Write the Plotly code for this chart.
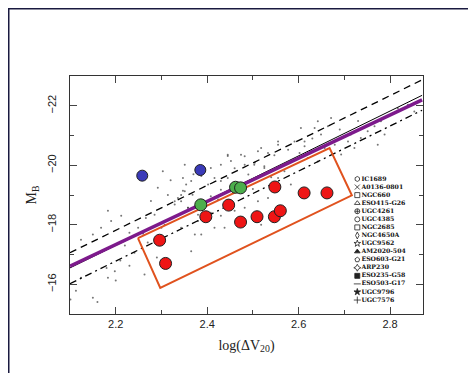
import plotly.graph_objects as go

# ---- data ----
field_x = [2.101, 2.15, 2.183, 2.20, 2.198, 2.21, 2.18, 2.23, 2.241, 2.263, 2.124, 2.113,
           2.292, 2.303, 2.314, 2.277, 2.336, 2.347, 2.329, 2.354, 2.19, 2.168, 2.212, 2.15,
           2.124, 2.23, 2.266, 2.249, 2.183, 2.30, 2.285,
           2.533, 2.555, 2.577, 2.591, 2.613, 2.445, 2.482, 2.511, 2.547, 2.602,
           2.351, 2.408, 2.43, 2.452, 2.482, 2.504, 2.525, 2.347, 2.365, 2.387, 2.402, 2.416,
           2.43, 2.445, 2.351, 2.368, 2.408, 2.424, 2.343, 2.358, 2.38, 2.408, 2.43, 2.46,
           2.482, 2.511, 2.533, 2.387, 2.416, 2.518, 2.555, 2.569, 2.583, 2.555,
           2.613, 2.635, 2.649, 2.664, 2.627, 2.657, 2.679, 2.693, 2.708, 2.722, 2.714, 2.736,
           2.751, 2.766, 2.78, 2.801, 2.817, 2.839, 2.853, 2.73, 2.671, 2.62, 2.642, 2.788, 2.773,
           2.642, 2.605, 2.555, 2.518, 2.474, 2.445, 2.503, 2.525, 2.49, 2.43,
           2.343, 2.329, 2.358, 2.402, 2.438, 2.373, 2.343, 2.307, 2.365, 2.38,
           2.14, 2.16, 2.22, 2.27, 2.29, 2.26, 2.32, 2.37, 2.46, 2.50, 2.54, 2.59, 2.63, 2.69]
field_y = [-15.49, -15.55, -16.22, -16.13, -16.44, -16.8, -16.55, -16.62, -17.06, -16.33, -16.22, -15.78,
           -19.24, -19.8, -19.0, -18.8, -18.9, -19.14, -18.68, -19.35, -18.13, -17.9, -18.3, -17.67,
           -17.5, -17.73, -18.23, -17.9, -18.47, -17.9, -18.34,
           -20.41, -20.69, -20.52, -20.8, -20.64, -20.31, -20.3, -20.47, -20.34, -20.41,
           -20.02, -19.91, -20.02, -20.14, -20.02, -20.08, -19.97, -19.57, -19.47, -19.64, -19.35, -19.57,
           -19.18, -19.57, -19.13, -19.01, -18.96, -18.85, -18.79, -18.57, -18.34, -18.4, -18.3, -18.47,
           -18.57, -18.79, -18.9, -17.67, -17.9, -18.0, -19.57, -19.8, -19.35, -19.14,
           -20.8, -21.25, -21.03, -21.31, -20.47, -20.58, -20.69, -20.36, -20.8, -20.58, -21.03, -20.92,
           -21.14, -21.31, -21.48, -21.7, -21.92, -22.03, -21.81, -21.49, -21.59, -20.24, -20.13, -21.03, -20.69,
           -21.48, -21.25, -20.8, -20.58, -20.35, -20.35, -20.02, -19.91, -19.69, -19.47,
           -19.0, -18.79, -18.57, -18.13, -17.9, -17.67, -17.9, -18.0, -17.11, -18.13,
           -16.9, -15.4, -17.3, -17.4, -16.9, -17.7, -19.5, -19.7, -19.9, -19.2, -19.6, -20.2, -20.9, -21.2]

blue_x = [2.258, 2.385]
blue_y = [-19.65, -19.84]

green_x = [2.386, 2.462, 2.473]
green_y = [-18.67, -19.26, -19.24]

red_x = [2.296, 2.309, 2.397, 2.447, 2.473, 2.509, 2.548, 2.547, 2.560, 2.612, 2.662]
red_y = [-17.48, -16.70, -18.27, -18.66, -18.09, -18.27, -19.27, -18.27, -18.47, -19.07, -19.07]

line_x = [2.10, 2.87]
purple_y = [-16.61, -22.20]
black_y = [-16.55, -22.35]
upper_y = [-17.06, -22.87]
lower_y = [-16.02, -21.85]

box_x = [2.2486, 2.2974, 2.7164, 2.6677, 2.2486]
box_y = [-17.55, -15.88, -18.99, -20.58, -17.55]

legend_names = ["IC1689", "A0136-0801", "NGC660", "ESO415-G26", "UGC4261", "UGC4385",
                "NGC2685", "NGC4650A", "UGC9562", "AM2020-504", "ESO603-G21", "ARP230",
                "ESO235-G58", "ESO503-G17", "UGC9796", "UGC7576"]
legend_symbols = ["hexagon-open", "x-thin-open", "square-open", "triangle-up-open",
                  "circle-cross-open", "circle-open", "square-open", "diamond-tall-open",
                  "star-open", "triangle-up", "pentagon-open", "star-diamond-open",
                  "square", "line-ew-open", "star", "cross-thin-open"]

x_ticks = [2.2, 2.4, 2.6, 2.8]
y_ticks = [-16, -18, -20, -22]

fig = go.Figure()

fig.add_trace(go.Scatter(x=field_x, y=field_y, mode="markers",
                         marker=dict(size=2, color="rgba(60,60,60,0.7)"),
                         hoverinfo="skip", showlegend=False))

fig.add_trace(go.Scatter(x=line_x, y=upper_y, mode="lines",
                         line=dict(color="black", width=1.3, dash="7px,5px"), showlegend=False))
fig.add_trace(go.Scatter(x=line_x, y=lower_y, mode="lines",
                         line=dict(color="black", width=1.3, dash="7px,4px,2px,4px"), showlegend=False))
fig.add_trace(go.Scatter(x=line_x, y=black_y, mode="lines",
                         line=dict(color="black", width=1), showlegend=False))
fig.add_trace(go.Scatter(x=line_x, y=purple_y, mode="lines",
                         line=dict(color="#7d1a8c", width=3.5), showlegend=False))
fig.add_trace(go.Scatter(x=box_x, y=box_y, mode="lines",
                         line=dict(color="#e0521e", width=2), showlegend=False))

mk_line = dict(color="#202020", width=1)
fig.add_trace(go.Scatter(x=blue_x, y=blue_y, mode="markers",
                         marker=dict(size=11, color="#3a3ab8", line=mk_line), showlegend=False))
fig.add_trace(go.Scatter(x=green_x, y=green_y, mode="markers",
                         marker=dict(size=12, color="#4cae4c", line=mk_line), showlegend=False))
fig.add_trace(go.Scatter(x=red_x, y=red_y, mode="markers",
                         marker=dict(size=12, color="#ee1515", line=mk_line), showlegend=False))

# legend-like list drawn on an auxiliary axis
n = len(legend_names)
fig.add_trace(go.Scatter(x=[0] * n, y=list(range(n)), mode="markers+text",
                         text=legend_names, textposition="middle right",
                         textfont=dict(family="DejaVu Serif", size=6.2, color="#111111", weight="bold"),
                         marker=dict(symbol=legend_symbols, size=5, color="#222222",
                                     line=dict(color="#222222", width=0.8)),
                         xaxis="x2", yaxis="y2", showlegend=False, cliponaxis=False))

axis_common = dict(showline=True, linecolor="#333333", linewidth=1, mirror="allticks",
                   ticks="inside", ticklen=7, tickcolor="#444444", tickwidth=1,
                   showgrid=False, zeroline=False,
                   tickfont=dict(family="Liberation Sans", size=11, color="#222222"))

fig.update_layout(
    width=476, height=373,
    margin=dict(l=62, r=61, t=68, b=67),
    paper_bgcolor="white", plot_bgcolor="white",
    showlegend=False,
    xaxis=dict(range=[2.10, 2.872], tickvals=x_ticks, ticktext=[f"{v:.1f}" for v in x_ticks],
               minor=dict(dtick=0.1, tick0=2.1, ticks="inside", ticklen=4, tickcolor="#444444"),
               title=dict(text="log(ΔV<sub>20</sub>)", standoff=10,
                          font=dict(family="Liberation Serif", size=14, color="#222222")),
               **axis_common),
    yaxis=dict(range=[-15.0, -23.0], tickvals=y_ticks, ticktext=["−16", "−18", "−20", "−22"],
               tickangle=-90, ticklabelstandoff=9,
               minor=dict(dtick=1, tick0=-15, ticks="inside", ticklen=4, tickcolor="#444444"),
               title=dict(text="M<sub>B</sub>", standoff=5,
                          font=dict(family="Liberation Serif", size=14, color="#222222")),
               **axis_common),
    xaxis2=dict(overlaying="x", range=[-287.3, 65.7], visible=False, fixedrange=True),
    yaxis2=dict(overlaying="y", range=[16.73, -12.76], visible=False, fixedrange=True),
    shapes=[dict(type="rect", xref="paper", yref="paper",
                 x0=-0.1742, x1=1.1714, y0=-0.2794, y1=1.2836,
                 line=dict(color="#1a1a40", width=2), layer="above")],
)

fig.write_html("out.html")
